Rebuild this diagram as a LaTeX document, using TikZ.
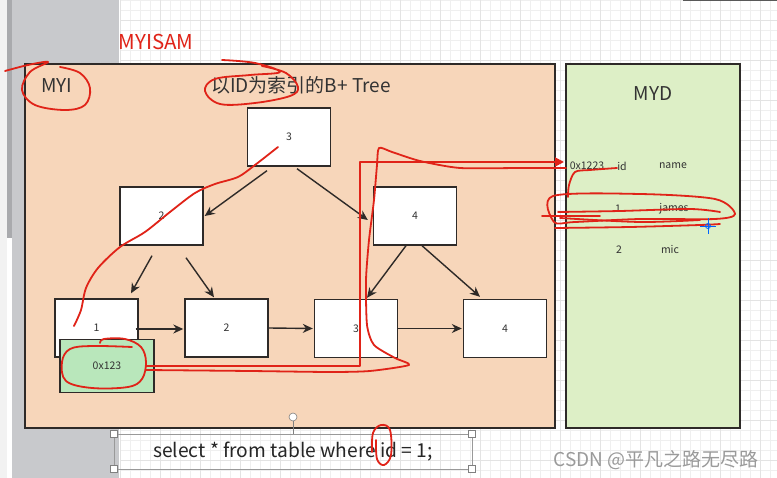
\documentclass[tikz,border=0pt]{standalone}
\usepackage{fontspec}
\setmainfont{Noto Sans CJK SC}
\usetikzlibrary{arrows.meta}
\definecolor{boxline}{HTML}{2E2A28}
\definecolor{textc}{HTML}{333333}
\definecolor{myifill}{HTML}{F7D6BA}
\definecolor{mydfill}{HTML}{DDEFC6}
\definecolor{ptrfill}{HTML}{B9E7BB}
\definecolor{annot}{HTML}{E02318}
\definecolor{gridc}{HTML}{EFEFEF}
\definecolor{gridm}{HTML}{E3E3E3}
\definecolor{panel}{HTML}{C8C9CC}
\definecolor{scrollc}{HTML}{A9AAAD}
\definecolor{wmc}{HTML}{9A9A9A}
\definecolor{leftstrip}{HTML}{F2F2F2}
\begin{document}
\begin{tikzpicture}[x=1pt,y=-1pt,
  box/.style={draw=boxline, fill=white, line width=1.4pt, minimum width=83, minimum height=58, inner sep=0, font=\fontsize{10.5}{12}\selectfont, text=textc},
  arr/.style={draw=boxline, line width=1.4pt, -{Stealth[length=10pt,width=9pt]}},
  ink/.style={draw=annot, line width=1.8pt, line cap=round, line join=round},
  big/.style={font=\fontsize{19}{22}\selectfont, text=textc, inner sep=0},
  small/.style={font=\fontsize{10.5}{12}\selectfont, text=textc, inner sep=0}]
\useasboundingbox (0,0) rectangle (777,478);
% background
\fill[white] (0,0) rectangle (777,478);
\foreach \i in {120,130,...,770} \draw[gridc, line width=0.6] (\i,0) -- (\i,478);
\foreach \j in {0,10,...,470} \draw[gridc, line width=0.6] (120,\j) -- (777,\j);
\foreach \i in {120,160,...,760} \draw[gridm, line width=0.7] (\i,0) -- (\i,478);
\foreach \j in {20,60,...,460} \draw[gridm, line width=0.7] (120,\j) -- (777,\j);
\fill[leftstrip] (0,0) rectangle (7,478);
\fill[panel] (12,0) rectangle (119,478);
\fill[scrollc] (7,0) rectangle (12,238);
\fill[black!65] (683,0) rectangle (777,1.5);
% outer boxes
\node[draw=boxline, fill=myifill, line width=1.4pt, minimum width=530, minimum height=364, inner sep=0] (myi) at (290,246) {};
\node[draw=boxline, fill=mydfill, line width=1.4pt, minimum width=174, minimum height=364, inner sep=0] (myd) at (653,246) {};
\node[big] (myilbl) at (57,86) {MYI};
\node[big] (title) at (301,85) {以ID为索引的B+ Tree};
\node[big, text=annot, font=\fontsize{20.5}{24}\selectfont] (isam) at (156,42) {MYISAM};
\node[big] (mydlbl) at (653,94) {MYD};
% tree
\node[box] (r) at (289,137) {3};
\node[box] (n2) at (161.5,216) {2};
\node[box] (n4) at (415,216) {4};
\node[box] (l1) at (96.5,328) {1};
\node[box] (l2) at (226.5,328) {2};
\node[box] (l3) at (356,328.5) {3};
\node[box] (l4) at (505,328.5) {4};
\node[box, fill=ptrfill, minimum width=94, minimum height=53] (ptr) at (107,366) {0x123};
\draw[arr] ([shift={(-22,4)}]r.south) -- ([shift={(1,0)}]n2.east);
\draw[arr] ([shift={(8,2)}]r.south) -- ([shift={(-5,4)}]n4.west);
\draw[arr] ([shift={(-9.5,10)}]n2.south) -- ([shift={(34.5,-5)}]l1.north);
\draw[arr] ([shift={(24.5,12)}]n2.south) -- ([shift={(-12.5,-1)}]l2.north);
\draw[arr] ([shift={(-9,0)}]n4.south) -- ([shift={(11,-1)}]l3.north);
\draw[arr] ([shift={(7,0)}]n4.south) -- ([shift={(-25,-2)}]l4.north);
\draw[arr] ([shift={(-3,1)}]l1.east) -- ([shift={(-1,1)}]l2.west);
\draw[arr] (l2.east) -- ([shift={(-1,0)}]l3.west);
\draw[arr] (l3.east) -- ([shift={(-1,0)}]l4.west);
% MYD rows
\node[small] (h0) at (587,166) {0x1223};
\node[small] (h1) at (622,166) {id};
\node[small] (h2) at (673,166) {name};
\node[small] (a1) at (618,209) {1};
\node[small] (a2) at (674,209) {james};
\node[small] (b1) at (619,250) {2};
\node[small] (b2) at (670,250) {mic};
% sql text with selection frame
\draw[gray!80, line width=0.6] (114,434) rectangle (472,469);
\node[font=\fontsize{19.2}{22}\selectfont, text=black!85, inner sep=0] (sql) at (293,452) {select * from table where id = 1;};
\foreach \p in {(114,434),(472,434),(114,469),(472,469)}
  \draw[gray, fill=white, line width=0.6] \p +(-3.5,-3.5) rectangle +(3.5,3.5);
\draw[gray, line width=0.6] (293,421) -- (293,434);
\draw[gray, fill=white, line width=0.6] (293,417) circle (4);
% watermark
\node[font=\fontsize{19}{22}\selectfont, text=wmc, inner sep=0] (wm) at (656,460) {CSDN @平凡之路无尽路};
% red annotations
\draw[ink] plot[smooth, tension=0.6] coordinates {(5,71) (28,65) (48,62) (30,72) (22,90) (35,105) (65,110) (85,105) (90,88) (80,73) (60,67)};
\draw[ink] plot[smooth, tension=0.6] coordinates {(222,60) (255,63) (280,72) (250,75) (215,79) (205,91) (220,104) (255,103) (290,96) (298,87) (286,73) (262,66)};
\draw[ink] plot[smooth, tension=0.5] coordinates {(278,147) (255,165) (238,177) (215,184) (195,193) (170,212) (145,232) (120,247) (98,268) (86,288) (81,310) (74,326)};
\draw[ink] plot[smooth, tension=0.6] coordinates {(100,343) (104,339) (125,339) (141,347) (146,362) (142,379) (128,387) (92,388) (66,381) (62,362) (70,349) (92,346) (132,347)};
\draw[ink, -{Triangle[length=9pt,width=9pt]}] (146,366) -- (360,366) -- (360,162) -- (564,162);
\draw[ink] plot[smooth, tension=0.4] coordinates {(146,370) (250,371) (330,372) (370,371) (409,365) (395,358) (374,345) (367,325) (366,280) (369,240) (374,200) (377,165) (379,148) (392,152) (420,161) (460,168) (520,168) (566,168)};
\draw[ink] plot[smooth, tension=0.5] coordinates {(617,168) (590,170) (575,172) (569,185) (568,197)};
\draw[ink] plot[smooth cycle, tension=0.5] coordinates {(553,196) (640,194) (715,199) (735,214) (715,219) (640,219) (575,222) (554,222)};
\draw[ink] plot[smooth, tension=0.5] coordinates {(558,212) (620,211) (690,209) (720,212)};
\draw[ink] plot[smooth, tension=0.5] coordinates {(560,218) (640,222) (700,220)};
\draw[ink] plot[smooth, tension=0.5] coordinates {(555,228) (630,227) (700,225) (720,224)};
\draw[ink] (542,216) -- (600,216);
\draw[ink] plot[smooth, tension=0.6] coordinates {(372,452) (373,433) (381,425) (390,430) (391,455) (384,465) (377,459) (376,440)};
% cursor
\draw[blue!60!cyan, line width=0.8] (700,226) -- (716,226) (708,218) -- (708,234);
\draw[blue!60!cyan, line width=0.8] (708,226) circle (2.5);
\end{tikzpicture}
\end{document}
